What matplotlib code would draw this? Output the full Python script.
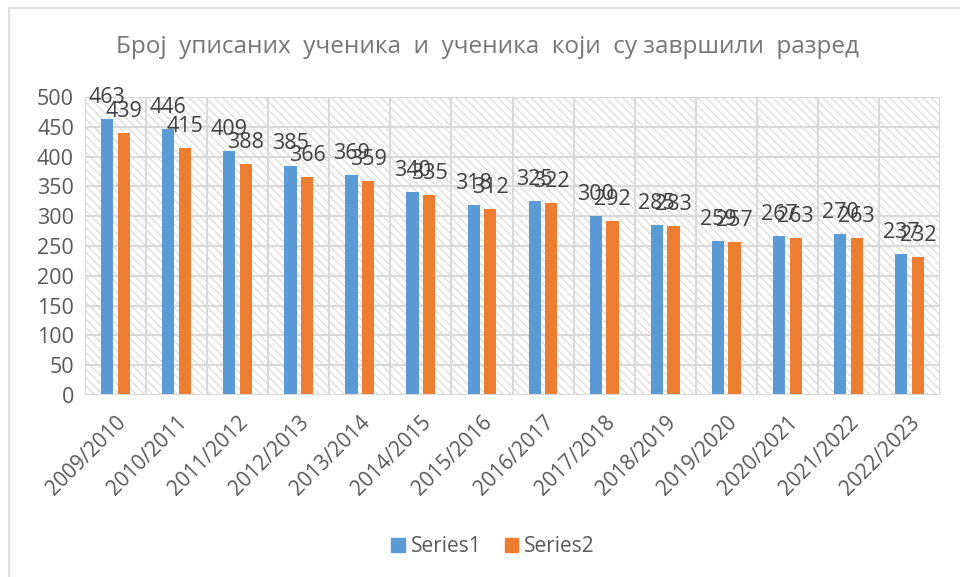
import numpy as np
import matplotlib.pyplot as plt
import matplotlib
from matplotlib.patches import Rectangle
from matplotlib.lines import Line2D

matplotlib.rcParams['font.family'] = ['Open Sans', 'DejaVu Sans']
matplotlib.rcParams['hatch.color'] = '#d9d9d9'
matplotlib.rcParams['hatch.linewidth'] = 0.8

# # datos
godine = ['2009/2010', '2010/2011', '2011/2012', '2012/2013', '2013/2014',
          '2014/2015', '2015/2016', '2016/2017', '2017/2018', '2018/2019',
          '2019/2020', '2020/2021', '2021/2022', '2022/2023']
series1 = [463, 446, 409, 385, 369, 340, 318, 325, 300, 285, 259, 267, 270, 237]
series2 = [439, 415, 388, 366, 359, 335, 312, 322, 292, 283, 257, 263, 263, 232]

naslov = 'Број  уписаних  ученика  и  ученика  који  су завршили  разред'
siva = '#595959'

fig = plt.figure(figsize=(9.6, 5.77), dpi=100)
W, H = 960, 577
ax = fig.add_axes([85 / W, 1 - 395 / H, (940 - 85) / W, (395 - 97) / H])

x = np.arange(len(godine))
ancho = 0.2
off = 0.136

# fondo rayado
ax.add_patch(Rectangle((0, 0), 1, 1, transform=ax.transAxes, facecolor='white',
                       hatch='\\\\\\\\', edgecolor='#d9d9d9', linewidth=0, zorder=0))

b1 = ax.bar(x - off, series1, ancho, color='#5B9BD5', label='Series1', zorder=3)
b2 = ax.bar(x + off, series2, ancho, color='#ED7D31', label='Series2', zorder=3)

for rects in (b1, b2):
    for r in rects:
        ax.annotate(str(int(r.get_height())), (r.get_x() + r.get_width() / 2, r.get_height()),
                    xytext=(0, 8), textcoords='offset points', ha='center', va='bottom',
                    fontsize=15.5, color='#404040', zorder=5)

ax.set_xlim(-0.5, len(godine) - 0.5)
ax.set_ylim(0, 500)
ax.set_yticks(np.arange(0, 501, 50))
ax.set_xticks(x)
ax.set_xticklabels(godine, rotation=45, ha='right', rotation_mode='anchor',
                   fontsize=15, color=siva)
ax.tick_params(axis='y', labelsize=15.5, labelcolor=siva, length=0, pad=8)
ax.tick_params(axis='x', length=0, pad=12)

# lineas de grilla
for yv in np.arange(50, 501, 50):
    ax.axhline(yv, color='#d9d9d9', linewidth=1.5, zorder=1)
for xv in np.arange(-0.5, len(godine), 1):
    ax.axvline(xv, color='#d9d9d9', linewidth=1.5, zorder=1)
for s in ax.spines.values():
    s.set_visible(False)
ax.axhline(0, color='#d9d9d9', linewidth=1.5, zorder=4)

fig.text(488 / W, 1 - 47 / H, naslov, ha='center', va='center', fontsize=17.5, color='#767676')

handles = [Rectangle((0, 0), 1, 1, color='#5B9BD5'), Rectangle((0, 0), 1, 1, color='#ED7D31')]
fig.legend(handles, ['Series1', 'Series2'], loc='center', bbox_to_anchor=(493 / W, 1 - 547 / H),
           ncol=2, frameon=False, fontsize=15, labelcolor=siva, handlelength=0.65,
           handleheight=0.65, handletextpad=0.3, columnspacing=1.1)

# borde del grafico
fig.add_artist(Line2D([8.5 / W, 8.5 / W], [0, 1 - 8 / H], color='#d9d9d9', linewidth=1.2))
fig.add_artist(Line2D([8.5 / W, 1], [1 - 8 / H, 1 - 8 / H], color='#d9d9d9', linewidth=1.2))

plt.savefig('out.png', dpi=100)
